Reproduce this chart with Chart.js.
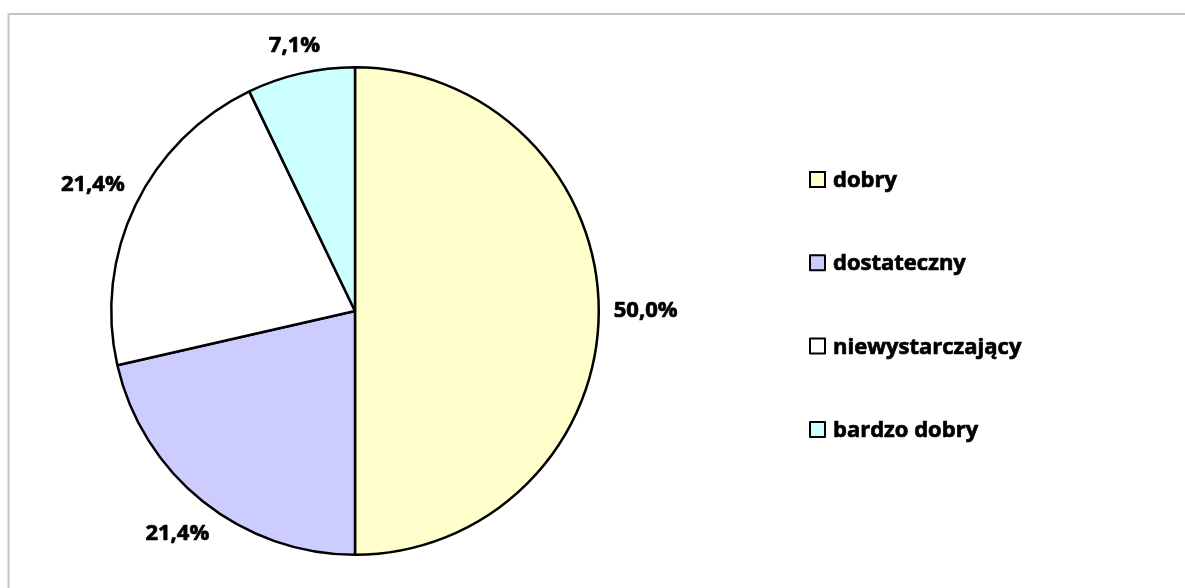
<!DOCTYPE html>
<html>
<head>
<meta charset="utf-8">
<script src="https://cdn.jsdelivr.net/npm/chart.js@4.4.1/dist/chart.umd.min.js"></script>
<style>
  html, body { margin: 0; padding: 0; background: #ffffff; }
  #wrap { width: 1185px; height: 588px; position: relative; }
</style>
</head>
<body>
<div id="wrap"><canvas id="c" width="1185" height="588"></canvas></div>
<script>
const categories = ['dobry', 'dostateczny', 'niewystarczający', 'bardzo dobry'];
const percentValues = [50.0, 21.43, 21.43, 7.14];
const sliceColors = ['#FFFFCC', '#CCCCFF', '#FFFFFF', '#CCFFFF'];

const FONT = 'bold 22px "Open Sans", "DejaVu Sans", sans-serif';

function fmt(v) {
  return v.toFixed(1).replace('.', ',') + '%';
}

function boldText(ctx, txt, x, y) {
  ctx.lineWidth = 0.7;
  ctx.strokeStyle = '#000000';
  ctx.lineJoin = 'round';
  ctx.strokeText(txt, x, y);
  ctx.fillText(txt, x, y);
}

const decorPlugin = {
  id: 'decor',
  beforeDraw(chart) {
    const ctx = chart.ctx;
    ctx.save();
    ctx.strokeStyle = '#c4c4c4';
    ctx.lineWidth = 2;
    ctx.strokeRect(8.5, 14, 1200, 600);
    ctx.restore();
  },
  afterDatasetsDraw(chart) {
    const ctx = chart.ctx;
    const meta = chart.getDatasetMeta(0);
    const ds = chart.data.datasets[0];
    ctx.save();
    ctx.font = FONT;
    ctx.fillStyle = '#000000';
    ctx.textAlign = 'center';
    ctx.textBaseline = 'middle';
    meta.data.forEach((arc, i) => {
      const p = arc.getProps(['x', 'y', 'startAngle', 'endAngle', 'outerRadius'], true);
      const mid = (p.startAngle + p.endAngle) / 2;
      const txt = fmt(ds.data[i]);
      const w = ctx.measureText(txt).width;
      const h = 16;
      const c = Math.cos(mid), s = Math.sin(mid);
      const d = p.outerRadius + 15 + (w / 2) * Math.abs(c) + (h / 2) * Math.abs(s);
      boldText(ctx, txt, p.x + d * c, p.y + d * s);
    });
    ctx.restore();
  },
  afterDraw(chart) {
    const ctx = chart.ctx;
    const labels = chart.data.labels;
    const colors = chart.data.datasets[0].backgroundColor;
    ctx.save();
    ctx.font = FONT;
    ctx.textAlign = 'left';
    ctx.textBaseline = 'alphabetic';
    const x0 = 810, y0 = 172, step = 83.3, box = 15;
    labels.forEach((lab, i) => {
      const y = y0 + i * step;
      ctx.fillStyle = colors[i];
      ctx.fillRect(x0, y, box, box);
      ctx.strokeStyle = '#000000';
      ctx.lineWidth = 2;
      ctx.strokeRect(x0, y, box, box);
      ctx.fillStyle = '#000000';
      boldText(ctx, lab, x0 + 23, y + box);
    });
    ctx.restore();
  }
};

new Chart(document.getElementById('c'), {
  type: 'pie',
  data: {
    labels: categories,
    datasets: [{
      data: percentValues,
      backgroundColor: sliceColors,
      borderColor: '#000000',
      borderWidth: 2.5,
      hoverBorderWidth: 2.5,
      hoverOffset: 0
    }]
  },
  options: {
    responsive: false,
    animation: false,
    events: [],
    layout: { padding: { left: 110, top: 66, right: 585, bottom: 32 } },
    plugins: {
      legend: { display: false },
      tooltip: { enabled: false }
    }
  },
  plugins: [decorPlugin]
});
</script>
</body>
</html>
